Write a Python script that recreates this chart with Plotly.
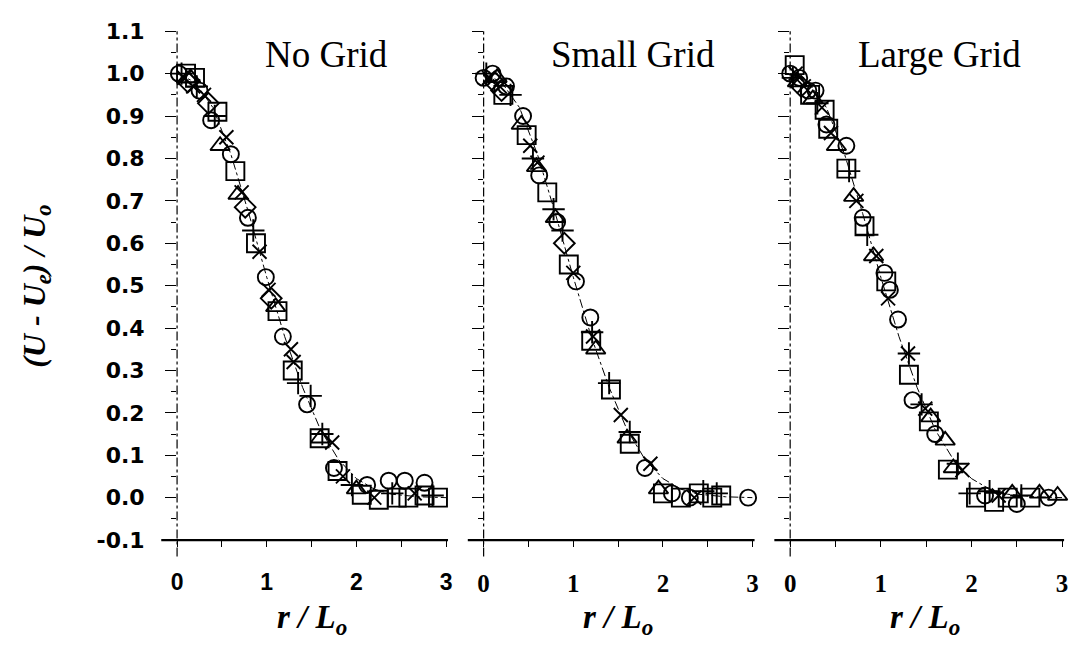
import plotly.graph_objects as go

# ---------------- data ----------------
PANELS = ["No Grid", "Small Grid", "Large Grid"]
Y_TICKS = [-0.1, 0.0, 0.1, 0.2, 0.3, 0.4, 0.5, 0.6, 0.7, 0.8, 0.9, 1.0, 1.1]
Y_TICK_TEXT = ["-0.1", "0.0", "0.1", "0.2", "0.3", "0.4", "0.5", "0.6", "0.7", "0.8", "0.9", "1.0", "1.1"]
X_TICKS = [0, 1, 2, 3]

# No Grid
NG_R = [0.02, 0.05, 0.08, 0.10, 0.12, 0.15, 0.18, 0.20, 0.22, 0.25,
        0.30, 0.35, 0.38, 0.45, 0.42, 0.48, 0.55, 0.60, 0.65, 0.68,
        0.72, 0.76, 0.79, 0.85, 0.88, 0.92, 0.99, 1.02, 1.05, 1.12,
        1.10, 1.18, 1.27, 1.30, 1.29, 1.35, 1.49, 1.45, 1.59, 1.62,
        1.60, 1.73, 1.75, 1.79, 1.85, 1.95, 2.00, 2.06, 2.20, 2.25,
        2.45, 2.58, 2.76, 2.91, 2.40, 2.65, 2.85, 2.36, 2.54, 2.76, 2.12]
NG_V = [1.00, 1.00, 0.99, 1.00, 0.98, 0.99, 0.97, 0.99, 0.97, 0.96,
        0.95, 0.93, 0.89, 0.91, 0.90, 0.83, 0.85, 0.81, 0.77, 0.715,
        0.72, 0.685, 0.66, 0.63, 0.60, 0.58, 0.52, 0.49, 0.47, 0.44,
        0.45, 0.38, 0.35, 0.32, 0.30, 0.27, 0.24, 0.22, 0.14, 0.15,
        0.14, 0.13, 0.07, 0.063, 0.05, 0.03, 0.02, 0.007, 0.0, -0.005,
        0.0, 0.0, 0.005, 0.0, 0.01, 0.01, 0.005, 0.04, 0.04, 0.035, 0.03]
NG_SET = ["o", "+", "x", "s", "d", "t", "x", "s", "+", "o",
          "x", "d", "o", "s", "+", "t", "x", "o", "s", "t",
          "x", "d", "o", "+", "s", "x", "o", "x", "d", "s",
          "t", "o", "x", "x", "s", "+", "+", "o", "s", "+",
          "t", "x", "o", "s", "x", "+", "t", "s", "x", "s",
          "s", "s", "s", "s", "+", "x", "+", "o", "o", "o", "o"]

# Small Grid
SG_R = [0.00, 0.03, 0.06, 0.10, 0.12, 0.15, 0.18, 0.20, 0.22, 0.25,
        0.30, 0.44, 0.42, 0.48, 0.52, 0.55, 0.59, 0.62, 0.60, 0.71,
        0.78, 0.82, 0.80, 0.90, 0.88, 0.95, 1.03, 1.00, 1.19, 1.20,
        1.22, 1.21, 1.25, 1.42, 1.40, 1.53, 1.63, 1.63, 1.60, 1.86,
        1.80, 2.00, 2.20, 2.40, 2.55, 2.65, 2.30, 2.10, 2.45, 2.60,
        2.35, 2.95, 1.95]
SG_V = [0.99, 1.00, 0.99, 1.00, 0.98, 0.99, 0.97, 0.96, 0.95, 0.97,
        0.95, 0.90, 0.88, 0.855, 0.83, 0.80, 0.78, 0.76, 0.79, 0.72,
        0.68, 0.65, 0.66, 0.60, 0.63, 0.55, 0.51, 0.53, 0.425, 0.37,
        0.38, 0.39, 0.35, 0.255, 0.27, 0.195, 0.127, 0.155, 0.14, 0.08,
        0.07, 0.01, 0.0, 0.01, 0.0, 0.005, 0.0, 0.01, 0.015, 0.01,
        0.0, 0.0, 0.02]
SG_SET = ["o", "+", "x", "o", "d", "t", "x", "d", "s", "o",
          "+", "o", "t", "s", "x", "+", "t", "o", "x", "s",
          "+", "o", "t", "d", "+", "s", "o", "x", "o", "s",
          "x", "+", "t", "s", "+", "x", "s", "+", "t", "x",
          "o", "s", "s", "s", "s", "s", "o", "o", "+", "+",
          "x", "o", "t"]

# Large Grid
LG_R = [0.05, 0.00, 0.03, 0.06, 0.08, 0.10, 0.12, 0.15, 0.20, 0.22,
        0.25, 0.28, 0.30, 0.35, 0.38, 0.40, 0.42, 0.45, 0.51, 0.62,
        0.62, 0.65, 0.70, 0.73, 0.80, 0.82, 0.85, 0.92, 0.95, 1.06,
        1.04, 1.10, 1.08, 1.19, 1.30, 1.31, 1.31, 1.35, 1.49, 1.45,
        1.53, 1.55, 1.71, 1.60, 1.74, 1.80, 1.90, 1.85, 1.98, 2.05,
        2.15, 2.25, 2.30, 2.40, 2.45, 2.55, 2.65, 2.75, 2.85, 2.95,
        2.20, 2.50]
LG_V = [1.02, 1.00, 0.99, 1.00, 0.98, 0.99, 0.97, 0.97, 0.96, 0.95,
        0.94, 0.96, 0.93, 0.92, 0.915, 0.88, 0.87, 0.86, 0.83, 0.83,
        0.776, 0.77, 0.71, 0.70, 0.66, 0.64, 0.62, 0.57, 0.57, 0.51,
        0.53, 0.49, 0.47, 0.42, 0.34, 0.34, 0.29, 0.23, 0.21, 0.22,
        0.18, 0.19, 0.135, 0.15, 0.066, 0.07, 0.065, 0.08, 0.01, 0.0,
        0.005, -0.01, 0.005, 0.0, 0.01, 0.005, 0.0, 0.01, 0.0, 0.005,
        0.015, -0.015]
LG_SET = ["s", "o", "+", "x", "t", "o", "d", "x", "o", "s",
          "t", "o", "+", "x", "s", "o", "s", "x", "t", "o",
          "s", "+", "t", "x", "o", "s", "+", "t", "x", "s",
          "o", "o", "x", "o", "x", "+", "s", "o", "x", "+",
          "s", "t", "t", "o", "s", "t", "x", "+", "+", "s",
          "o", "s", "x", "s", "t", "+", "s", "t", "o", "t",
          "+", "o"]

# dashed fit curve
FIT_R = [0.0, 0.2, 0.4, 0.6, 0.8, 1.0, 1.2, 1.4, 1.6, 1.8, 2.0, 2.2, 2.4, 2.7, 3.0]
FIT_V = [1.0, 0.98, 0.92, 0.81, 0.67, 0.52, 0.38, 0.26, 0.16, 0.09, 0.045, 0.02, 0.008, 0.002, 0.0]

# ---------------- styling ----------------
W, H = 1078, 655
SYMBOLS = {"o": "circle-open", "s": "square-open", "t": "triangle-up-open",
           "d": "diamond-open", "x": "x-thin-open", "+": "cross-thin-open"}
SIZES = {"o": 16, "s": 18, "t": 17, "d": 16, "x": 14, "+": 16}
PX_DOMAINS = [(173, 445), (483, 755), (793, 1068)]
Y_TOP_PX, Y_BOT_PX = 20, 549
YDOM = [1 - Y_BOT_PX / H, 1 - Y_TOP_PX / H]

fig = go.Figure()
data_sets = [(NG_R, NG_V, NG_SET), (SG_R, SG_V, SG_SET), (LG_R, LG_V, LG_SET)]

for i, (rr, vv, ss) in enumerate(data_sets):
    sfx = "" if i == 0 else str(i + 1)
    xa, ya = "x" + sfx, "y" + sfx
    fig.add_trace(go.Scatter(x=FIT_R, y=FIT_V, mode="lines", xaxis=xa, yaxis=ya,
                             line=dict(color="black", width=1, dash="dashdot"),
                             showlegend=False, hoverinfo="skip"))
    for key in SYMBOLS:
        px_ = [r for r, s in zip(rr, ss) if s == key]
        py_ = [v for v, s in zip(vv, ss) if s == key]
        fig.add_trace(go.Scatter(x=px_, y=py_, mode="markers", xaxis=xa, yaxis=ya,
                                 marker=dict(symbol=SYMBOLS[key], size=SIZES[key], color="black",
                                             line=dict(color="black", width=1.9)),
                                 showlegend=False, cliponaxis=False))

layout = dict(width=W, height=H, margin=dict(l=0, r=0, t=0, b=0),
              paper_bgcolor="white", plot_bgcolor="white", showlegend=False)

xfonts = [dict(family="Liberation Sans", size=23, color="black", weight="bold"),
          dict(family="Liberation Serif", size=25, color="black", weight="bold"),
          dict(family="Liberation Serif", size=25, color="black", weight="bold")]

shapes, annotations = [], []
for i, (a, b) in enumerate(PX_DOMAINS):
    sfx = "" if i == 0 else str(i + 1)
    layout["xaxis" + sfx] = dict(
        domain=[a / W, b / W], range=[0, 3], anchor="y" + sfx,
        tickvals=X_TICKS, ticktext=[str(t) for t in X_TICKS],
        ticks="outside", ticklen=6, tickwidth=1, tickcolor="black",
        minor=dict(dtick=0.5, ticks="outside", ticklen=6, tickwidth=1, tickcolor="black"),
        showline=False, showgrid=False, zeroline=False,
        tickfont=xfonts[i], ticklabelstandoff=15)
    layout["yaxis" + sfx] = dict(
        domain=YDOM, range=[-0.1, 1.1], anchor="x" + sfx,
        tickvals=Y_TICKS, ticktext=Y_TICK_TEXT, showticklabels=(i == 0),
        ticks="outside", ticklen=11, tickwidth=1.4, tickcolor="black",
        minor=dict(dtick=0.05, ticks="outside", ticklen=5, tickwidth=1, tickcolor="black"),
        showline=False, showgrid=False, zeroline=False,
        tickfont=dict(family="DejaVu Sans", size=22, color="black", weight="bold"),
        ticklabelstandoff=16)
    # dash-dot vertical axis line at r = 0
    shapes.append(dict(type="line", xref="paper", yref="paper",
                       x0=a / W, x1=a / W, y0=1 - 566 / H, y1=YDOM[1],
                       line=dict(color="black", width=1.2, dash="dashdot")))
    # solid bottom axis line
    shapes.append(dict(type="line", xref="paper", yref="paper",
                       x0=(a - 16) / W, x1=(b + 2) / W, y0=YDOM[0], y1=YDOM[0],
                       line=dict(color="black", width=2.2)))
    # panel title
    annotations.append(dict(text=PANELS[i], xref="paper", yref="paper",
                            x=(a + 151) / W, y=1 - 44 / H, xanchor="center", yanchor="middle",
                            showarrow=False,
                            font=dict(family="Liberation Serif", size=37, color="black")))
    # x title
    annotations.append(dict(text="<b><i>r / L<sub>o</sub></i></b>", xref="paper", yref="paper",
                            x=(a + 136) / W, y=1 - 632 / H, xanchor="center", yanchor="middle",
                            showarrow=False,
                            font=dict(family="Liberation Serif", size=33, color="black")))

annotations.append(dict(text="<b><i>(U - U<sub>e</sub>) / U<sub>o</sub></i></b>",
                        xref="paper", yref="paper", x=30 / W, y=1 - 285 / H,
                        xanchor="center", yanchor="middle", textangle=-90, showarrow=False,
                        font=dict(family="Liberation Serif", size=32, color="black")))

layout["shapes"] = shapes
layout["annotations"] = annotations
fig.update_layout(**layout)
fig.write_html("out.html")
